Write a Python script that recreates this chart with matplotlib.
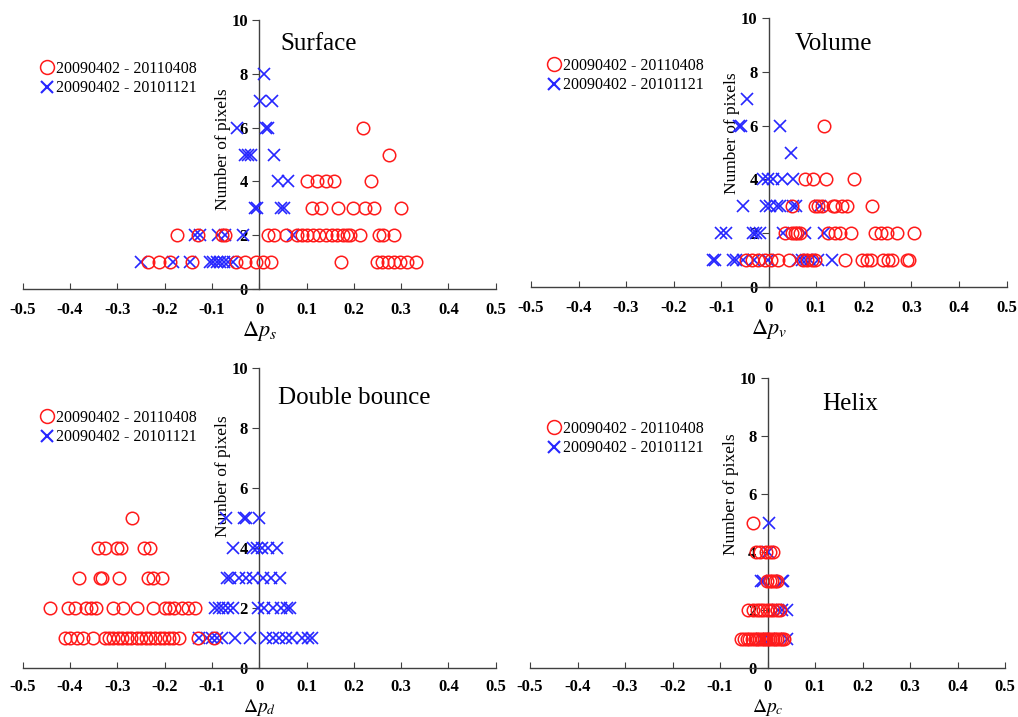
import matplotlib
matplotlib.use('Agg')
import matplotlib.pyplot as plt
from matplotlib.lines import Line2D

plt.rcParams['font.family'] = ['Liberation Serif', 'DejaVu Serif']
plt.rcParams['mathtext.fontset'] = 'stix'

# ---------------- data: each inner list holds the x values of one row (row k -> y = k) -------------
surf_red = [
    [-0.235, -0.211, -0.189, -0.143, -0.049, -0.030, -0.007, 0.0085, 0.026, 0.172,
     0.248, 0.260, 0.273, 0.285, 0.297, 0.312, 0.331],
    [-0.173, -0.129, -0.079, -0.072, 0.019, 0.031, 0.056, 0.079, 0.090, 0.100, 0.113,
     0.127, 0.142, 0.153, 0.164, 0.178, 0.186, 0.193, 0.213, 0.254, 0.262, 0.285],
    [0.111, 0.130, 0.167, 0.199, 0.223, 0.243, 0.300],
    [0.100, 0.123, 0.142, 0.158, 0.237],
    [0.275],
    [0.219],
]
surf_blue = [
    [-0.249, -0.183, -0.1465, -0.104, -0.097, -0.090, -0.083, -0.075, -0.0655, -0.055],
    [-0.136, -0.125, -0.087, -0.0725, -0.034, 0.0705],
    [-0.009, -0.004, 0.046, 0.052],
    [0.040, 0.060],
    [-0.030, -0.023, -0.018, 0.031],
    [-0.046, 0.0135, 0.019],
    [0.0015, 0.0275],
    [0.010],
]

vol_red = [
    [-0.047, -0.036, -0.0225, -0.0085, 0.0057, 0.0196, 0.043, 0.072, 0.081, 0.090, 0.097,
     0.160, 0.197, 0.206, 0.214, 0.241, 0.251, 0.260, 0.291, 0.294],
    [0.034, 0.048, 0.055, 0.060, 0.065, 0.125, 0.140, 0.149, 0.172, 0.223, 0.237, 0.248,
     0.269, 0.306],
    [0.048, 0.097, 0.104, 0.113, 0.135, 0.139, 0.153, 0.164, 0.218],
    [0.076, 0.093, 0.120, 0.179],
    [],
    [0.116],
]
vol_blue = [
    [-0.117, -0.113, -0.076, -0.069, -0.054, -0.032, -0.0015, 0.062, 0.069, 0.078, 0.086,
     0.104, 0.132],
    [-0.0996, -0.089, -0.033, -0.026, -0.0175, 0.030, 0.076, 0.116],
    [-0.055, -0.005, 0.0035, 0.0175, 0.0245, 0.051, 0.058, 0.107],
    [-0.012, -0.0015, 0.009, 0.027, 0.051],
    [0.046],
    [-0.0625, -0.0575, 0.023],
    [-0.045],
]

dbl_red = [
    [-0.411, -0.400, -0.386, -0.372, -0.351, -0.326, -0.318, -0.309, -0.299, -0.290, -0.280,
     -0.270, -0.259, -0.249, -0.240, -0.231, -0.2205, -0.210, -0.201, -0.191, -0.182,
     -0.170, -0.130, -0.095],
    [-0.4425, -0.404, -0.390, -0.366, -0.356, -0.346, -0.309, -0.2875, -0.259, -0.224,
     -0.199, -0.191, -0.180, -0.164, -0.150, -0.136],
    [-0.381, -0.337, -0.332, -0.296, -0.235, -0.224, -0.205],
    [-0.340, -0.325, -0.301, -0.292, -0.243, -0.231],
    [-0.268],
]
dbl_blue = [
    [-0.1275, -0.111, -0.1006, -0.090, -0.0795, -0.051, -0.0197, 0.0135, 0.0296, 0.0416,
     0.0557, 0.069, 0.0896, 0.1036, 0.112],
    [-0.094, -0.085, -0.076, -0.066, -0.055, -0.002, 0.0106, 0.030, 0.047, 0.058, 0.065],
    [-0.069, -0.062, -0.043, -0.027, -0.0127, 0.0085, 0.026, 0.044],
    [-0.055, -0.0127, -0.004, 0.005, 0.019, 0.038],
    [-0.070, -0.032, -0.027, 0.000],
]

hel_red = [
    [-0.055, -0.049, -0.044, -0.038, -0.033, -0.027, -0.022, -0.017, -0.012, -0.008,
     -0.003, 0.002, 0.006, 0.011, 0.016, 0.021, 0.026, 0.030, 0.034],
    [-0.041, -0.030, -0.023, -0.016, -0.009, -0.002, 0.005, 0.012, 0.019, 0.026],
    [-0.002, 0.005, 0.0105, 0.0155, 0.0205],
    [-0.025, -0.016, -0.0035, 0.005, 0.012],
    [-0.030],
]
hel_blue = [
    [-0.012, 0.004, 0.040],
    [0.022, 0.0295, 0.040],
    [-0.0147, -0.009, 0.0295, 0.033],
    [0.001],
    [0.0035],
]

titles = ['Surface', 'Volume', 'Double bounce', 'Helix']
xlabels = [r'$\Delta p_s$', r'$\Delta p_v$', r'$\Delta p_d$', r'$\Delta p_c$']
legend_labels = ['20090402 - 20110408', '20090402 - 20101121']
xticks = [-0.5, -0.4, -0.3, -0.2, -0.1, 0, 0.1, 0.2, 0.3, 0.4, 0.5]
xticklabels = ['-0.5', '-0.4', '-0.3', '-0.2', '-0.1', '0', '0.1', '0.2', '0.3', '0.4', '0.5']
yticks = [0, 2, 4, 6, 8, 10]

reds = [surf_red, vol_red, dbl_red, hel_red]
blues = [surf_blue, vol_blue, dbl_blue, hel_blue]

# ---------------- layout (pixel based) ----------------
W, H = 1018, 717
fig = plt.figure(figsize=(W / 100, H / 100), dpi=100)

# (left px, right px, y0 px, y10 px)
boxes = [(22.7, 495.7, 289, 20), (531, 1006.5, 287, 18),
         (22.7, 495.7, 668, 368), (530, 1005, 668, 378)]
title_pos = [(0.045, 9.1), (0.055, 9.05), (0.04, 9.0), (0.115, 9.1)]
ylab_pos = [(0.44, 0.52), (0.44, 0.57), (0.44, 0.64), (0.44, 0.60)]
leg_pos = [(40, 61), (547, 58), (40, 410), (547, 421)]
xlab_pad = [1, 1, 1, 1]
xlab_size = [16, 16, 14, 14]
xtick_pad = [9, 9, 8, 8]

RED = '#ff1a1a'
BLUE = '#2626ff'

def to_list(rows):
    xs, ys = [], []
    for k, row in enumerate(rows, start=1):
        for v in row:
            xs.append(v)
            ys.append(k)
    return xs, ys

for i in range(4):
    l, r, y0, y10 = boxes[i]
    ax = fig.add_axes([l / W, 1 - y0 / H, (r - l) / W, (y0 - y10) / H])
    ax.set_xlim(-0.5, 0.5)
    ax.set_ylim(0, 10)
    ax.patch.set_alpha(0)
    for s in ['top', 'right']:
        ax.spines[s].set_visible(False)
    ax.spines['left'].set_position(('data', 0))
    for s in ['left', 'bottom']:
        ax.spines[s].set_color('#404040')
        ax.spines[s].set_linewidth(1.0)

    bx, by = to_list(blues[i])
    rx, ry = to_list(reds[i])
    ax.plot(bx, by, ls='none', marker='x', ms=8.5, mew=1.2, color=BLUE, clip_on=False, zorder=3)
    ax.plot(rx, ry, ls='none', marker='o', ms=9, mew=1.1, mfc='none', mec=RED,
            clip_on=False, zorder=4)

    ax.set_xticks(xticks)
    ax.set_xticklabels(xticklabels, fontsize=12, fontweight='bold')
    ax.set_yticks(yticks)
    ax.set_yticklabels([str(t) for t in yticks], fontsize=12, fontweight='bold')
    ax.tick_params(axis='x', direction='in', length=4, pad=xtick_pad[i], color='#404040')
    ax.tick_params(axis='y', direction='out', length=5, pad=3, color='#404040')

    ax.set_xlabel(xlabels[i], fontsize=xlab_size[i], labelpad=xlab_pad[i])
    ax.set_ylabel('Number of pixels', fontsize=12.5)
    ax.yaxis.set_label_coords(*ylab_pos[i])

    tx, ty = title_pos[i]
    ax.text(tx, ty, titles[i], fontsize=18, va='center', ha='left')

    handles = [Line2D([], [], ls='none', marker='o', ms=10, mew=1.1, mfc='none', mec=RED),
               Line2D([], [], ls='none', marker='x', ms=9, mew=1.5, color=BLUE)]
    lx, ly = leg_pos[i]
    ax.legend(handles, legend_labels, loc='upper left',
              bbox_to_anchor=(lx / W, 1 - ly / H), bbox_transform=fig.transFigure,
              frameon=False, fontsize=11.5, handlelength=0.9, handletextpad=0.1,
              labelspacing=0.2, borderpad=0, borderaxespad=0)

fig.savefig('out.png', dpi=100)
